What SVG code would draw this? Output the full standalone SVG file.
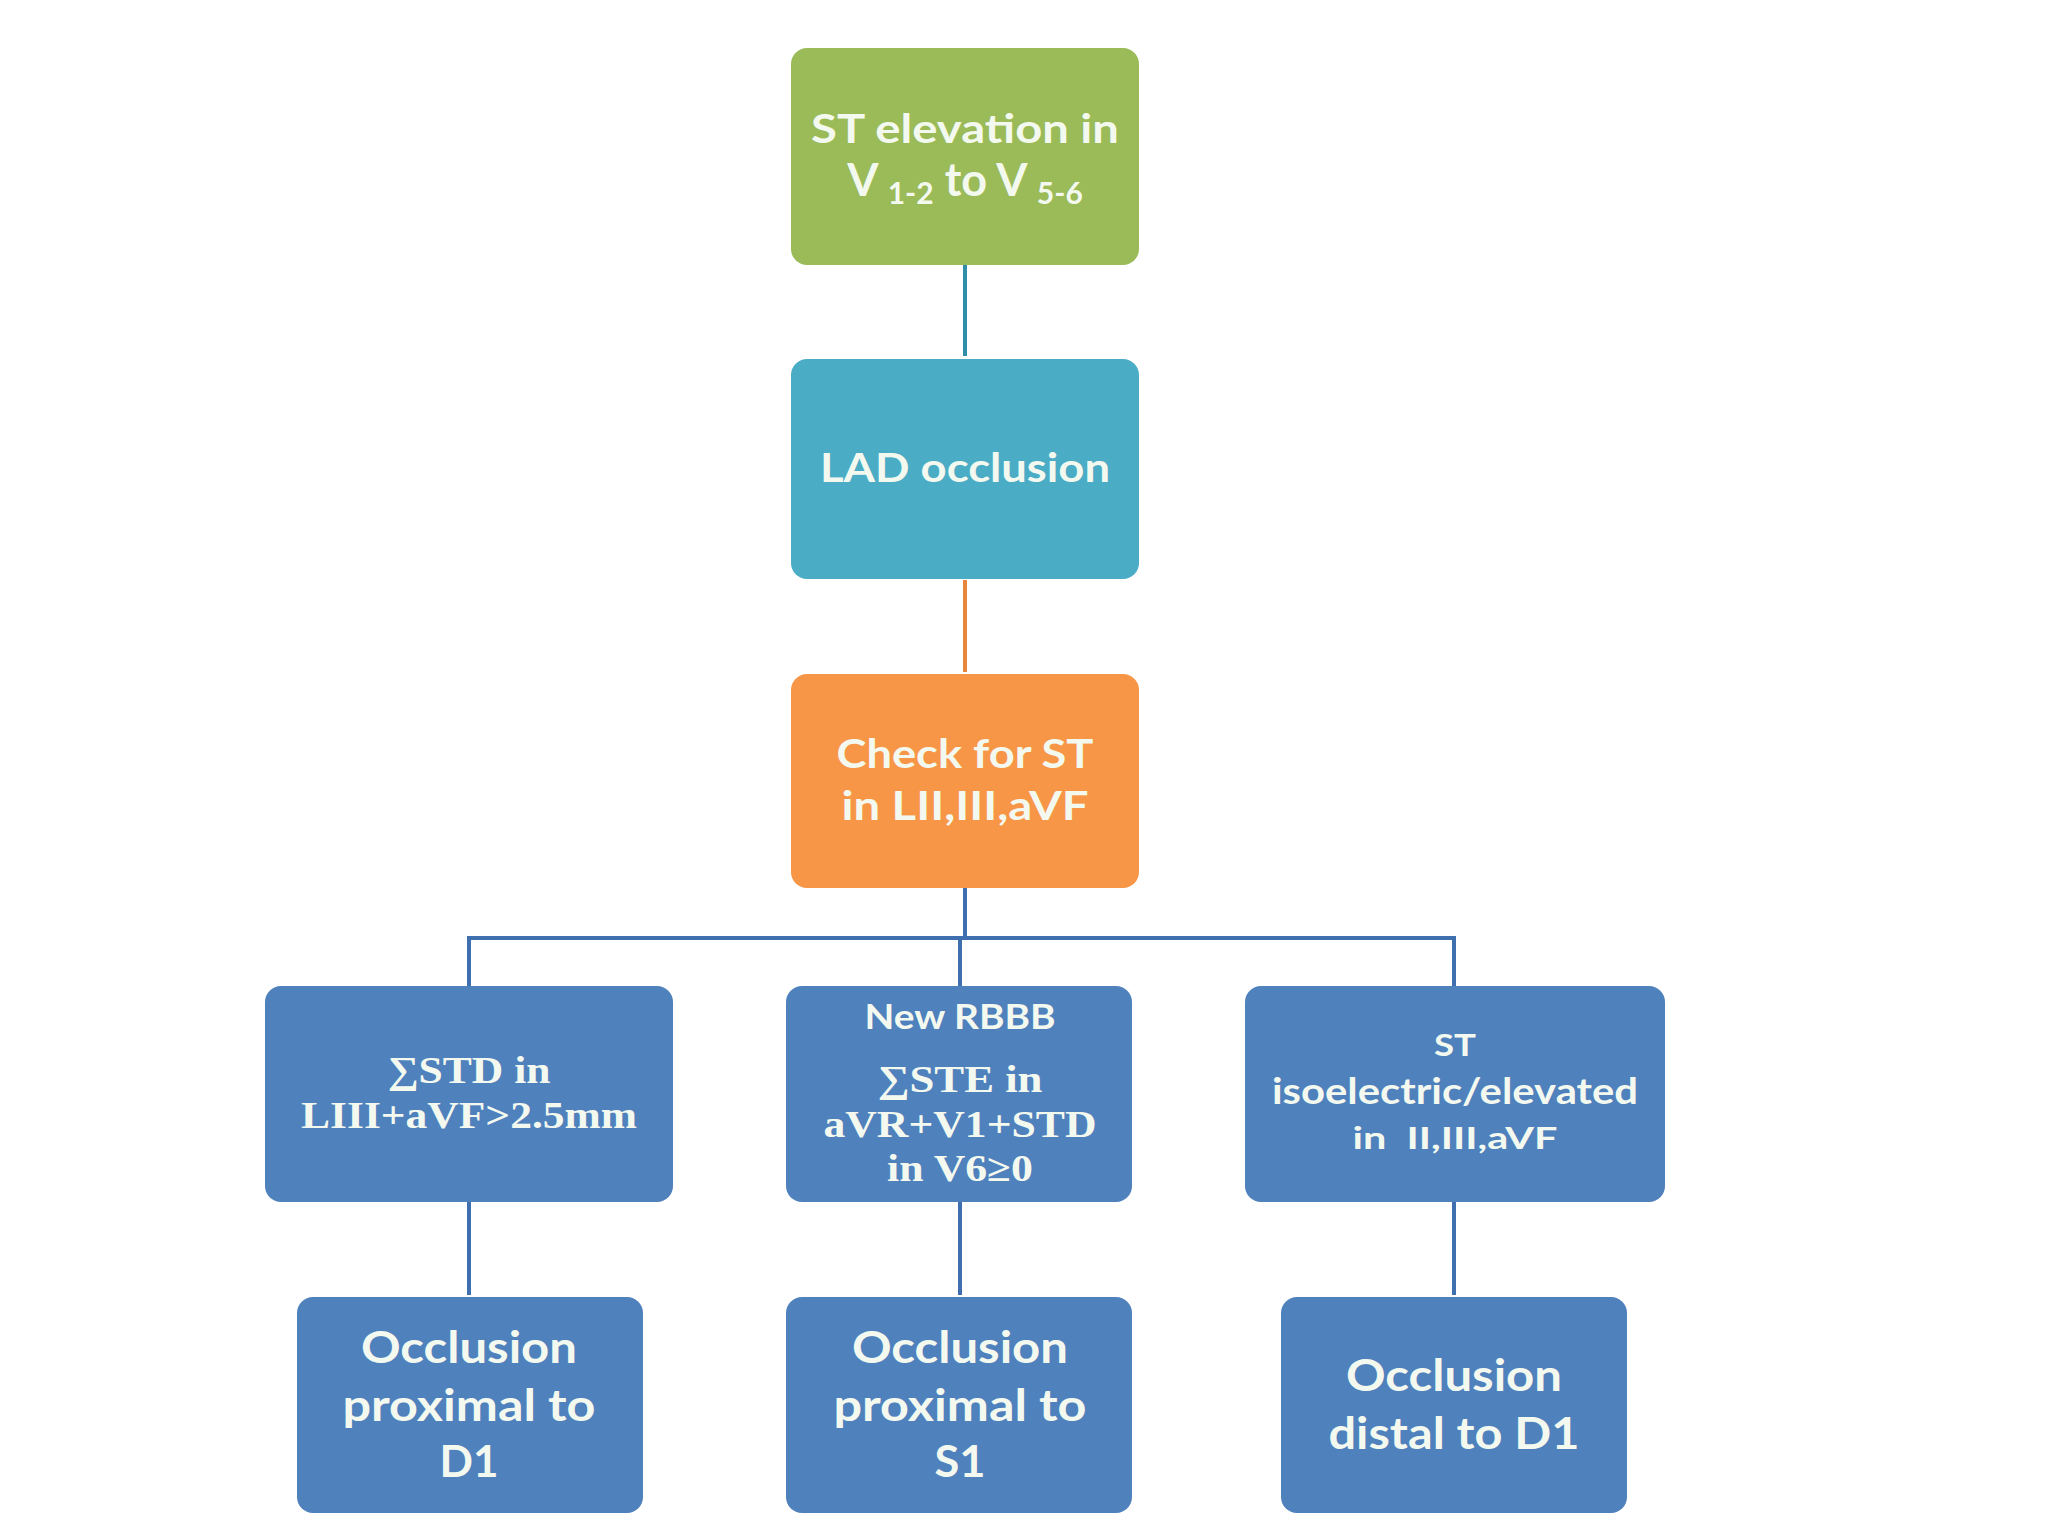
<svg xmlns="http://www.w3.org/2000/svg" width="2048" height="1536" viewBox="0 0 2048 1536">
<style>
.box{stroke:none}
.green{fill:#9bbb59}
.teal{fill:#4bacc6}
.orange{fill:#f79646}
.blue{fill:#4f81bd}
.t{font-family:Lato,"Open Sans","Liberation Sans",sans-serif;font-weight:bold;fill:#f4f9f0;text-anchor:middle}
.s{font-family:"Liberation Serif","DejaVu Serif",serif;font-weight:bold;fill:#f4f9f0;text-anchor:middle}
.c{fill:none;stroke-width:4}
</style>
<rect width="2048" height="1536" fill="#ffffff"/>
<g id="connectors">
<line class="c" x1="965" y1="265" x2="965" y2="356" stroke="#2f8fa8"/>
<line class="c" x1="965" y1="580" x2="965" y2="672" stroke="#e8873c"/>
<line class="c" x1="965" y1="888" x2="965" y2="938" stroke="#3f6fae"/>
<polyline class="c" points="469,986 469,938 1454,938 1454,986" stroke="#3f6fae"/>
<line class="c" x1="960" y1="938" x2="960" y2="986" stroke="#3f6fae"/>
<line class="c" x1="469" y1="1202" x2="469" y2="1295" stroke="#3f6fae"/>
<line class="c" x1="960" y1="1202" x2="960" y2="1295" stroke="#3f6fae"/>
<line class="c" x1="1454" y1="1202" x2="1454" y2="1295" stroke="#3f6fae"/>
</g>
<g id="n1">
<rect class="box green" x="791" y="48" width="348" height="217" rx="16"/>
<text class="t" x="965" y="143" font-size="41" textLength="308" lengthAdjust="spacingAndGlyphs">ST elevation in</text>
<text class="t" x="965" y="196" font-size="45">V <tspan font-size="30" dy="8">1-2</tspan><tspan dy="-8"> to V </tspan><tspan font-size="30" dy="8">5-6</tspan></text>
</g>
<g id="n2">
<rect class="box teal" x="791" y="359" width="348" height="220" rx="16"/>
<text class="t" x="965" y="482" font-size="41" textLength="290" lengthAdjust="spacingAndGlyphs">LAD occlusion</text>
</g>
<g id="n3">
<rect class="box orange" x="791" y="674" width="348" height="214" rx="16"/>
<text class="t" x="965" y="768" font-size="41" textLength="257" lengthAdjust="spacingAndGlyphs">Check for ST</text>
<text class="t" x="965" y="820" font-size="41" textLength="247" lengthAdjust="spacingAndGlyphs">in LII,III,aVF</text>
</g>
<g id="n4">
<rect class="box blue" x="265" y="986" width="408" height="216" rx="16"/>
<text class="s" x="469" y="1083" font-size="38" textLength="163" lengthAdjust="spacingAndGlyphs">∑STD in</text>
<text class="s" x="469" y="1128" font-size="38" textLength="336" lengthAdjust="spacingAndGlyphs">LIII+aVF&gt;2.5mm</text>
</g>
<g id="n5">
<rect class="box blue" x="786" y="986" width="346" height="216" rx="16"/>
<text class="t" x="960" y="1029" font-size="34" textLength="191" lengthAdjust="spacingAndGlyphs">New RBBB</text>
<text class="s" x="960" y="1092" font-size="38" textLength="165" lengthAdjust="spacingAndGlyphs">∑STE in</text>
<text class="s" x="960" y="1137" font-size="38" textLength="273" lengthAdjust="spacingAndGlyphs">aVR+V1+STD</text>
<text class="s" x="960" y="1181" font-size="38" textLength="146" lengthAdjust="spacingAndGlyphs">in V6≥0</text>
</g>
<g id="n6">
<rect class="box blue" x="1245" y="986" width="420" height="216" rx="16"/>
<text class="t" x="1455" y="1056" font-size="30" textLength="42" lengthAdjust="spacingAndGlyphs">ST</text>
<text class="t" x="1455" y="1104" font-size="37" textLength="366" lengthAdjust="spacingAndGlyphs">isoelectric/elevated</text>
<text class="t" x="1455" y="1149" font-size="31" xml:space="preserve" style="white-space:pre" textLength="205" lengthAdjust="spacingAndGlyphs">in  II,III,aVF</text>
</g>
<g id="n7">
<rect class="box blue" x="297" y="1297" width="346" height="216" rx="16"/>
<text class="t" x="469" y="1363" font-size="44" textLength="216" lengthAdjust="spacingAndGlyphs">Occlusion</text>
<text class="t" x="469" y="1421" font-size="44" textLength="253" lengthAdjust="spacingAndGlyphs">proximal to</text>
<text class="t" x="469" y="1477" font-size="44" textLength="59" lengthAdjust="spacingAndGlyphs">D1</text>
</g>
<g id="n8">
<rect class="box blue" x="786" y="1297" width="346" height="216" rx="16"/>
<text class="t" x="960" y="1363" font-size="44" textLength="216" lengthAdjust="spacingAndGlyphs">Occlusion</text>
<text class="t" x="960" y="1421" font-size="44" textLength="253" lengthAdjust="spacingAndGlyphs">proximal to</text>
<text class="t" x="960" y="1477" font-size="44" textLength="51" lengthAdjust="spacingAndGlyphs">S1</text>
</g>
<g id="n9">
<rect class="box blue" x="1281" y="1297" width="346" height="216" rx="16"/>
<text class="t" x="1454" y="1391" font-size="44" textLength="216" lengthAdjust="spacingAndGlyphs">Occlusion</text>
<text class="t" x="1454" y="1449" font-size="44" textLength="251" lengthAdjust="spacingAndGlyphs">distal to D1</text>
</g>
</svg>
